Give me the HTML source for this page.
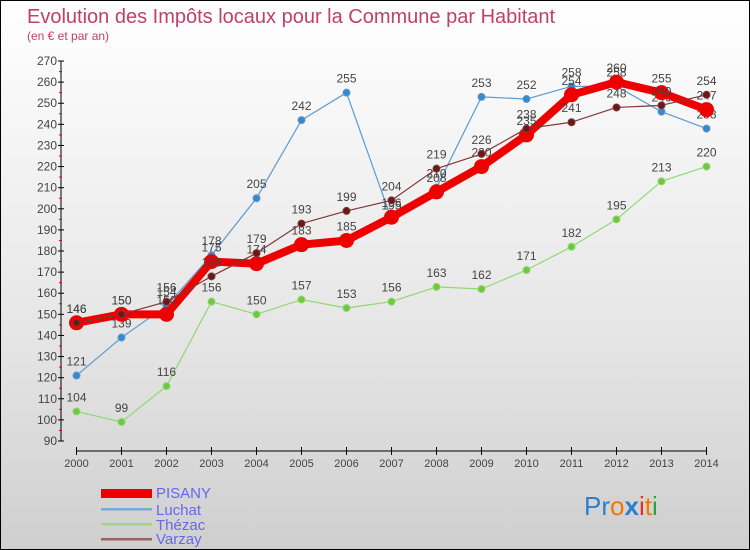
<!DOCTYPE html>
<html><head><meta charset="utf-8"><style>
body{margin:0}
#c{position:relative;width:748px;height:548px;border:1px solid #000;background:linear-gradient(#ffffff,#e6e6e6 60%,#cfcfcf);font-family:"Liberation Sans",sans-serif;overflow:hidden}
</style></head><body>
<div id="c">
<svg id="s" width="748" height="548" xmlns="http://www.w3.org/2000/svg">
<text x="26" y="22" font-size="20" fill="#c0406a">Evolution des Impôts locaux pour la Commune par Habitant</text>
<text x="26" y="39" font-size="12" fill="#c0406a">(en € et par an)</text>
<g id="axes"></g><g id="series"></g>
<g font-size="15" fill="#6666ee">
<rect x="100" y="488" width="51" height="9" fill="#ee0000"/>
<text x="155" y="497">PISANY</text>
<rect x="100" y="507" width="51" height="2.5" fill="#7aaad4"/>
<text x="155" y="514">Luchat</text>
<rect x="100" y="522" width="51" height="2.5" fill="#a0d880"/>
<text x="155" y="529">Thézac</text>
<rect x="100" y="537" width="51" height="2.5" fill="#a06060"/>
<text x="155" y="543">Varzay</text>
</g>
<text x="583" y="514" font-size="26"><tspan fill="#2a7fd0">Pr</tspan><tspan fill="#f07800">o</tspan><tspan fill="#2a7fd0" font-weight="bold">x</tspan><tspan fill="#e03020">i</tspan><tspan fill="#f07800">t</tspan><tspan fill="#30a040">i</tspan></text>
</svg></div>
<script>
const years=[2000,2001,2002,2003,2004,2005,2006,2007,2008,2009,2010,2011,2012,2013,2014];
const yTicks=[90,100,110,120,130,140,150,160,170,180,190,200,210,220,230,240,250,260,270];
const pisany=[146,150,150,175,174,183,185,196,208,220,235,254,260,255,247];
const luchat=[121,139,154,178,205,242,255,195,210,253,252,258,258,246,238];
const thezac=[104,99,116,156,150,157,153,156,163,162,171,182,195,213,220];
const varzay=[146,150,156,168,179,193,199,204,219,226,238,241,248,249,254];
const NS="http://www.w3.org/2000/svg";
const X=i=>75.5+i*45.0;
const Y=v=>440-(v-90)*2.111;
function mk(t,a,p){const e=document.createElementNS(NS,t);for(const k in a)e.setAttribute(k,a[k]);p.appendChild(e);return e;}
const ax=document.getElementById('axes');
let yl=mk('line',{x1:60,y1:Y(270),x2:60,y2:Y(90),stroke:'#000'},ax);


let xl=mk('line',{x1:X(0),y1:450,x2:X(14),y2:450,stroke:'#000'},ax);


yTicks.forEach(v=>{
 mk('line',{x1:57,y1:Y(v),x2:63,y2:Y(v),stroke:'#000'},ax);
 if(v<270)mk('line',{x1:58,y1:Y(v+5),x2:61,y2:Y(v+5),stroke:'#e00'},ax);
 const t=mk('text',{x:56,y:Y(v)+4,'text-anchor':'end','font-size':12,fill:'#444'},ax);t.textContent=v;
 
 
});
years.forEach((y,i)=>{
 mk('line',{x1:X(i),y1:446,x2:X(i),y2:454,stroke:'#000'},ax);
 const t=mk('text',{x:X(i),y:466,'text-anchor':'middle','font-size':11,fill:'#444'},ax);t.textContent=y;
 
 
});
const sg=document.getElementById('series');
function draw(data,name,col,w,r,dot){
 const g=mk('g',{},sg);
 
 
 mk('polyline',{points:data.map((v,i)=>X(i)+','+Y(v)).join(' '),fill:'none',stroke:col,'stroke-width':w,'stroke-linejoin':'round'},g);
 data.forEach((v,i)=>{
  const c=mk('circle',{cx:X(i),cy:Y(v),r:r,fill:dot,stroke:col,'stroke-width':1},g);
  
  
  const t=mk('text',{x:X(i),y:Y(v)-10,'text-anchor':'middle','font-size':12,fill:'#444'},g);t.textContent=v;
 });
}
draw(thezac,'thezac','#90d870',1.2,3.5,'#70c840');
draw(luchat,'luchat','#5b9bd0',1.2,3.5,'#3a88cc');
draw(pisany,'pisany','#ee0000',8,7,'#ee0000');
draw(varzay,'varzay','#803838',1.2,3.5,'#6a1818');
</script>
</body></html>
